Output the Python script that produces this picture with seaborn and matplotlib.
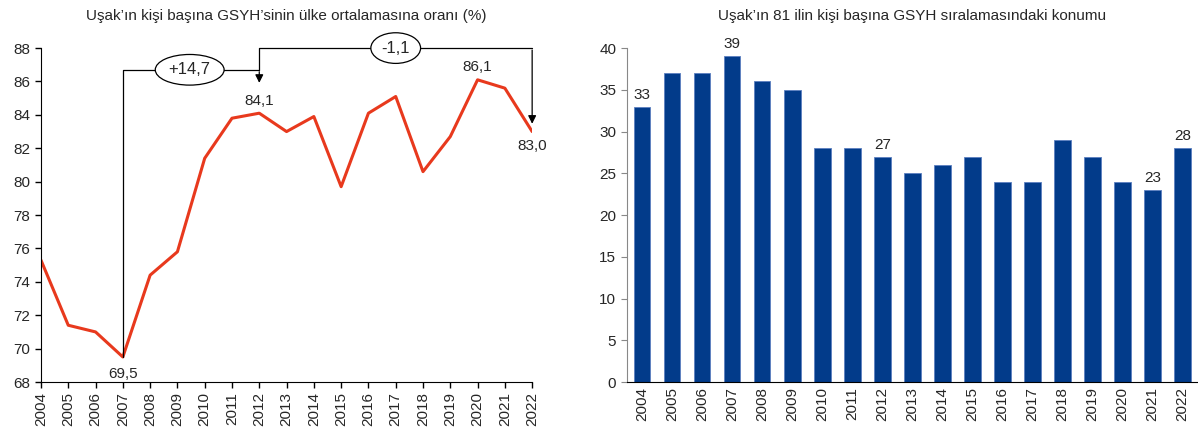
import numpy as np
import matplotlib
matplotlib.use("Agg")
import matplotlib.pyplot as plt
import seaborn as sns

sns.set_style("ticks")
plt.rcParams["font.family"] = ["Liberation Sans", "DejaVu Sans"]

# data
years = list(range(2004, 2023))
ratio = [75.3, 71.4, 71.0, 69.5, 74.4, 75.8, 81.4, 83.8, 84.1, 83.0,
         83.9, 79.7, 84.1, 85.1, 80.6, 82.7, 86.1, 85.6, 83.0]
rank = [33, 37, 37, 39, 36, 35, 28, 28, 27, 25, 26, 27, 24, 24, 29, 27, 24, 23, 28]
ratio_labels = {2007: "69,5", 2012: "84,1", 2020: "86,1", 2022: "83,0"}
rank_labels = [2004, 2007, 2012, 2021, 2022]

red = "#E8391D"
blue = "#023B8A"
fs = 11

fig = plt.figure(figsize=(11.98, 4.32), dpi=100)
ax1 = fig.add_axes([0.0342, 0.1157, 0.410, 0.773])
ax2 = fig.add_axes([0.523, 0.1157, 0.4766, 0.773])

# ---- left: line chart
sns.lineplot(x=years, y=ratio, ax=ax1, color=red, linewidth=2.2)
ax1.set_xlim(2004, 2022)
ax1.set_ylim(68, 88)
ax1.set_yticks(range(68, 89, 2))
ax1.set_xticks(years)
ax1.set_xticklabels([str(y) for y in years], rotation=90)
ax1.tick_params(labelsize=fs, length=4, width=1, color="black")
sns.despine(ax=ax1)
for s in ["left", "bottom"]:
    ax1.spines[s].set_color("black")
ax1.set_title("Uşak’ın kişi başına GSYH’sinin ülke ortalamasına oranı (%)",
              fontsize=fs, pad=20)

# point labels
ax1.annotate(ratio_labels[2007], (2007, 69.5), xytext=(0, -7), textcoords="offset points",
             ha="center", va="top", fontsize=fs)
ax1.annotate(ratio_labels[2012], (2012, 84.1), xytext=(0, 4), textcoords="offset points",
             ha="center", va="bottom", fontsize=fs)
ax1.annotate(ratio_labels[2020], (2020, 86.1), xytext=(0, 4), textcoords="offset points",
             ha="center", va="bottom", fontsize=fs)
ax1.annotate(ratio_labels[2022], (2022, 83.0), xytext=(0, -5), textcoords="offset points",
             ha="center", va="top", fontsize=fs)

# change brackets
lk = dict(color="black", lw=0.9, clip_on=False)
ax1.plot([2007, 2007, 2012], [69.5, 86.7, 86.7], **lk)
ax1.annotate("", xy=(2012, 85.75), xytext=(2012, 86.75),
             arrowprops=dict(arrowstyle="-|>", color="black", lw=0.9, mutation_scale=12))
ax1.text(2009.45, 86.7, "+14,7", ha="center", va="center", fontsize=fs + 1,
         bbox=dict(boxstyle="ellipse,pad=0.2", fc="white", ec="black", lw=0.9))
ax1.plot([2012, 2012, 2022], [86.7, 88.0, 88.0], **lk)
ax1.annotate("", xy=(2022, 83.3), xytext=(2022, 88.05),
             arrowprops=dict(arrowstyle="-|>", color="black", lw=0.9, mutation_scale=12),
             annotation_clip=False)
ax1.text(2017.0, 88.0, "-1,1", ha="center", va="center", fontsize=fs + 1,
         bbox=dict(boxstyle="ellipse,pad=0.2", fc="white", ec="black", lw=0.9))

# ---- right: bar chart
year_str = [str(y) for y in years]
sns.barplot(x=year_str, y=rank, ax=ax2, color=blue, width=0.55, saturation=1,
            edgecolor="#5B7FC0", linewidth=0.6)
ax2.set_xlim(-0.52, 18.5)
ax2.set_ylim(0, 40)
ax2.set_yticks(range(0, 41, 5))
ax2.set_xlabel("")
ax2.set_ylabel("")
ax2.tick_params(axis="x", labelsize=fs, length=0, rotation=90)
ax2.tick_params(axis="y", labelsize=fs, length=4, color="#888888")
sns.despine(ax=ax2)
ax2.spines["left"].set_color("#888888")
ax2.spines["bottom"].set_color("black")
for y in rank_labels:
    i = years.index(y)
    ax2.text(i, rank[i] + 0.6, str(rank[i]), ha="center", va="bottom", fontsize=fs)
ax2.set_title("Uşak’ın 81 ilin kişi başına GSYH sıralamasındaki konumu",
              fontsize=fs, pad=20)

fig.savefig("out.png", dpi=100)
